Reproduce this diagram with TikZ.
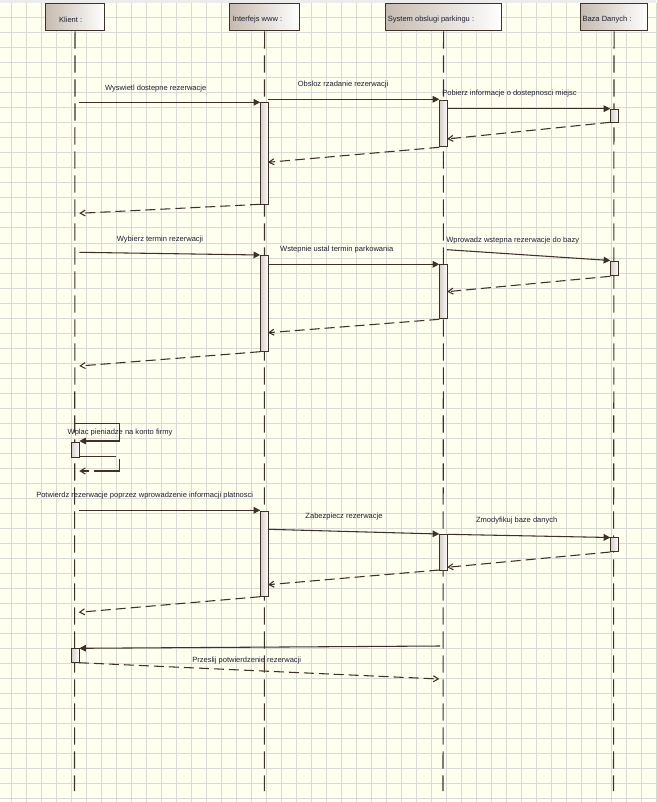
\documentclass[tikz,border=0pt]{standalone}
\usepackage{fontspec}
\setmainfont{Liberation Sans}
\usetikzlibrary{arrows.meta}
\definecolor{bg}{HTML}{FFFFF0}
\definecolor{gridc}{HTML}{DADAD4}
\definecolor{strip}{HTML}{ECECEC}
\definecolor{ln}{HTML}{3E3129}
\definecolor{hdl}{HTML}{C6BBB0}
\definecolor{barl}{HTML}{D9D0C9}
\definecolor{txt}{HTML}{1E1E34}
\begin{document}
\begin{tikzpicture}[x=0.75pt,y=-0.75pt,
  head/.style={draw=ln, line width=0.8pt, left color=hdl, right color=white, inner sep=0pt, anchor=north west},
  bar/.style={draw=ln, line width=0.8pt, left color=barl, right color=white, inner sep=0pt, minimum width=7.8*0.75pt, anchor=north west},
  life/.style={draw=ln, line width=0.8pt, dash pattern=on 13pt off 5pt},
  msg/.style={draw=ln, line width=0.8pt, -{Triangle[length=5pt,width=5pt]}},
  ret/.style={draw=ln, line width=0.8pt, dash pattern=on 7.5pt off 3.75pt, -{Straight Barb[length=3.75pt,width=4.5pt]}},
  selfret/.style={draw=ln, line width=0.8pt, dash pattern=on 28pt off 4pt, -{Straight Barb[length=3.75pt,width=4.5pt]}},
  lab/.style={font=\fontsize{5.65}{6.5}\selectfont, text=txt, inner sep=0pt}]
\useasboundingbox (0,0) rectangle (656,802);
\fill[bg] (0,0) rectangle (656,802);
\fill[strip] (0,0) rectangle (656,3);
\foreach \x in {11,26,...,656} \draw[gridc, line width=0.75pt] (\x,3) -- (\x,802);
\foreach \y in {18,33,...,802} \draw[gridc, line width=0.75pt] (0,\y) -- (656,\y);

% headers
\node[head, minimum width=59*0.75pt, minimum height=27*0.75pt] (hK) at (45,3.3) {};
\node[head, minimum width=70*0.75pt, minimum height=27*0.75pt] (hI) at (229,3.3) {};
\node[head, minimum width=116*0.75pt, minimum height=27*0.75pt] (hS) at (385,3.3) {};
\node[head, minimum width=67*0.75pt, minimum height=27*0.75pt] (hB) at (580,3.3) {};
\node[lab] (tK) at (70.7,20) {Klient :};
\node[lab] (tI) at (257.5,20) {Interfejs www :};
\node[lab] (tS) at (431,20) {System obslugi parkingu :};
\node[lab] (tB) at (607,20) {Baza Danych :};

% lifelines
\coordinate (eK) at (74.5,791);
\coordinate (eI) at (264.3,791);
\coordinate (eS) at (443,791);
\coordinate (eB) at (613.5,791);
\draw[life] (hK.south) -- (eK);
\draw[life] (hI.south) -- (eI);
\draw[life] (hS.south) -- (eS);
\draw[life] (hB.south) -- (eB);

% activation bars
\node[bar, minimum height=102*0.75pt] (bI1) at (260.2,102.3) {};
\node[bar, minimum height=46*0.75pt] (bS1) at (439.3,100.3) {};
\node[bar, minimum height=13.6*0.75pt, minimum width=7.4*0.75pt] (bB1) at (610.3,108.7) {};
\node[bar, minimum height=96*0.75pt] (bI2) at (260.2,255.3) {};
\node[bar, minimum height=54*0.75pt] (bS2) at (439.3,264.3) {};
\node[bar, minimum height=14.3*0.75pt, minimum width=7.4*0.75pt] (bB2) at (610.3,261) {};
\node[bar, minimum height=14.4*0.75pt, minimum width=8.3*0.75pt] (bK1) at (70.7,442.3) {};
\node[bar, minimum height=85.3*0.75pt] (bI3) at (260.2,511) {};
\node[bar, minimum height=36*0.75pt] (bS3) at (439.3,534.3) {};
\node[bar, minimum height=14*0.75pt, minimum width=7.4*0.75pt] (bB3) at (610.3,537.3) {};
\node[bar, minimum height=14*0.75pt, minimum width=8.3*0.75pt] (bK2) at (70.7,648.3) {};

% group 1
\coordinate (m1s) at (79.3,102.3); \coordinate (m1e) at (260.2,102.3);
\coordinate (m2s) at (268,99.3);   \coordinate (m2e) at (439.3,99.3);
\coordinate (m3s) at (447.1,108.7);\coordinate (m3e) at (610.3,108.7);
\coordinate (r3s) at (610.3,122.3);\coordinate (r3e) at (447.1,139);
\coordinate (r2s) at (439.3,147.3);\coordinate (r2e) at (268,162.3);
\coordinate (r1s) at (260.2,204.3);\coordinate (r1e) at (79.3,213.3);
\draw[msg] (m1s) -- (m1e);
\draw[msg] (m2s) -- (m2e);
\draw[msg] (m3s) -- (m3e);
\draw[ret] (r3s) -- (r3e);
\draw[ret] (r2s) -- (r2e);
\draw[ret] (r1s) -- (r1e);
\node[lab] (l1) at (155.7,88.3) {Wyswietl dostepne rezerwacje};
\node[lab] (l2) at (343,85) {Obsloz rzadanie rezerwacji};
\node[lab] (l3) at (509.5,94) {Pobierz informacje o dostepnosci miejsc};

% group 2
\coordinate (m4s) at (79.3,252.3); \coordinate (m4e) at (260.2,255);
\coordinate (m5s) at (268,264.3);  \coordinate (m5e) at (439.3,264.3);
\coordinate (m6s) at (447.1,249.7);\coordinate (m6e) at (610.3,260.5);
\coordinate (r6s) at (610.3,276.3);\coordinate (r6e) at (447.1,291.7);
\coordinate (r5s) at (439.3,319.3);\coordinate (r5e) at (268,332.7);
\coordinate (r4s) at (260.2,351.7);\coordinate (r4e) at (79.3,366);
\draw[msg] (m4s) -- (m4e);
\draw[msg] (m5s) -- (m5e);
\draw[msg] (m6s) -- (m6e);
\draw[ret] (r6s) -- (r6e);
\draw[ret] (r5s) -- (r5e);
\draw[ret] (r4s) -- (r4e);
\node[lab] (l4) at (160,239.3) {Wybierz termin rezerwacji};
\node[lab] (l5) at (336.7,250) {Wstepnie ustal termin parkowania};
\node[lab] (l6) at (512.7,241) {Wprowadz wstepna rezerwacje do bazy};

% self message
\coordinate (ss) at (74.5,423.3); \coordinate (se) at (79.3,441);
\draw[msg] (ss) -- (119.3,423.3) -- (119.3,441) -- (se);
\coordinate (srs) at (79,456.7); \coordinate (sre) at (79.3,471);
\draw[selfret] (srs) -- (119.3,456.7) -- (119.3,471) -- (sre);
\node[lab] (l7) at (120,433) {Wplac pieniadze na konto firmy};

% group 3
\coordinate (m7s) at (78.7,510.3); \coordinate (m7e) at (260.2,510.3);
\coordinate (m8s) at (268,529.3);  \coordinate (m8e) at (439.3,534);
\coordinate (m9s) at (447.1,534.3);\coordinate (m9e) at (610.3,537.5);
\coordinate (r9s) at (610.3,552);  \coordinate (r9e) at (447.1,567.3);
\coordinate (r8s) at (439.3,570);  \coordinate (r8e) at (268,584.7);
\coordinate (r7s) at (260.2,596.7);\coordinate (r7e) at (78.7,612.3);
\draw[msg] (m7s) -- (m7e);
\draw[msg] (m8s) -- (m8e);
\draw[msg] (m9s) -- (m9e);
\draw[ret] (r9s) -- (r9e);
\draw[ret] (r8s) -- (r8e);
\draw[ret] (r7s) -- (r7e);
\node[lab] (l8) at (144.7,495.7) {Potwierdz rezerwacje poprzez wprowadzenie informacji platnosci};
\node[lab] (l9) at (344,516.7) {Zabezpiecz rezerwacje};
\node[lab] (l10) at (516.7,521) {Zmodyfikuj baze danych};

% final
\coordinate (m10s) at (440,646); \coordinate (m10e) at (79.3,648.3);
\coordinate (r10s) at (79,662.7); \coordinate (r10e) at (439.3,679);
\draw[msg] (m10s) -- (m10e);
\draw[ret] (r10s) -- (r10e);
\node[lab] (l11) at (246.7,661) {Przeslij potwierdzenie rezerwacji};
\end{tikzpicture}
\end{document}
